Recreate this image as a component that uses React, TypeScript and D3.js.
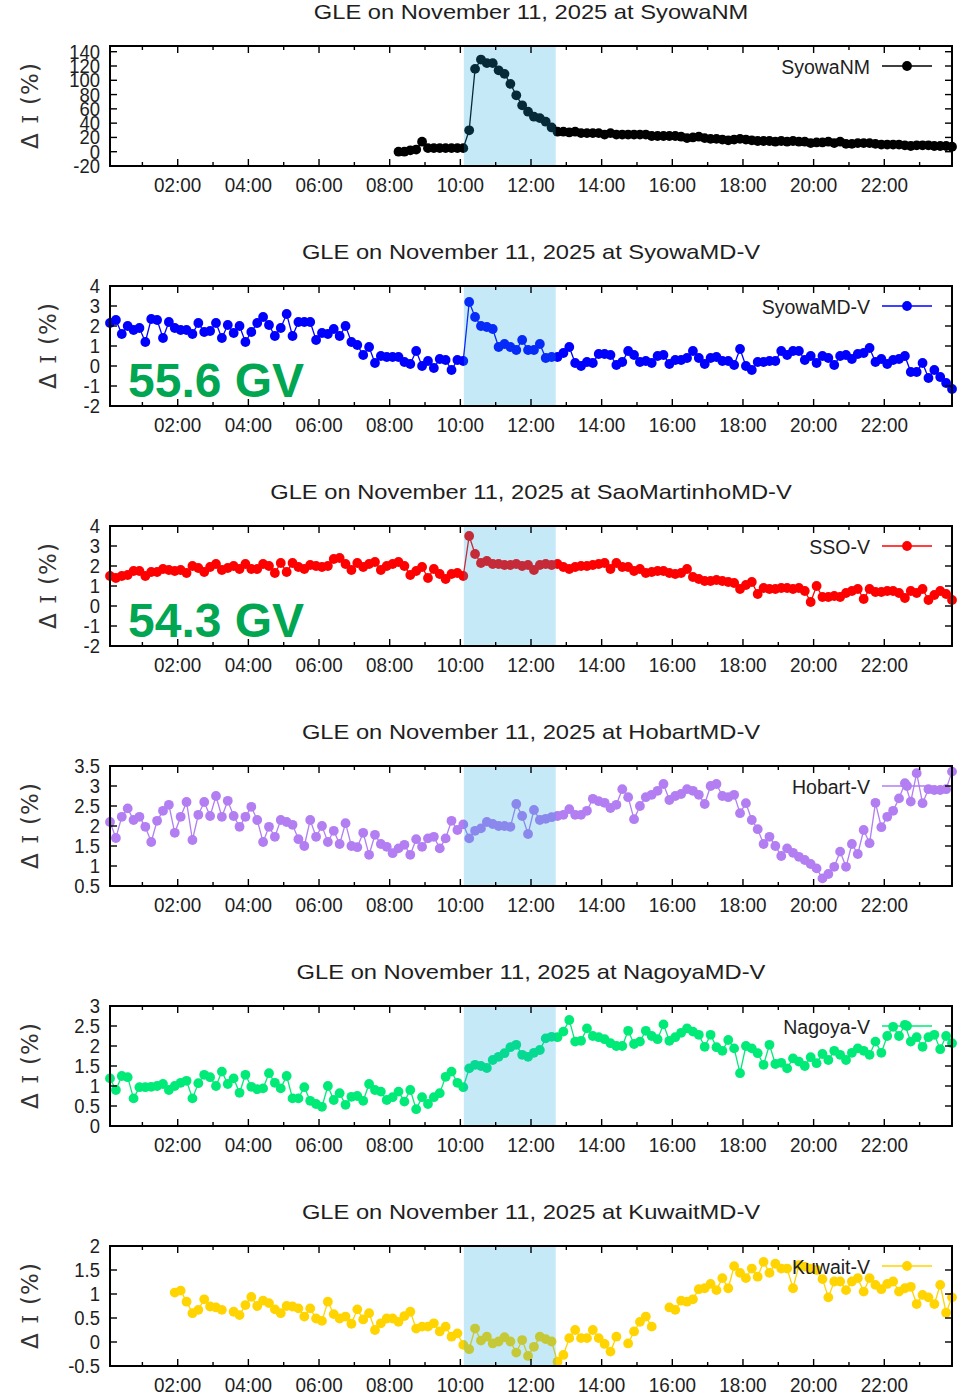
import React from "react";
import * as d3 from "d3";

// ---------- data ----------
const TITLE_PREFIX = "GLE on November 11, 2025 at ";
const stations = ["SyowaNM", "SyowaMD-V", "SaoMartinhoMD-V", "HobartMD-V", "NagoyaMD-V", "KuwaitMD-V"];
const legendLabels = ["SyowaNM", "SyowaMD-V", "SSO-V", "Hobart-V", "Nagoya-V", "Kuwait-V"];
const seriesColors = ["#000000", "#0000ff", "#ff0000", "#b27ef2", "#00ea78", "#ffd400"];
const rigidityLabels = ["", "55.6 GV", "54.3 GV", "", "", ""];
const yDomains: number[][] = [[-20, 148], [-2, 4], [-2, 4], [0.5, 3.5], [0, 3], [-0.5, 2]];
const yTickValues: number[][] = [
  [-20, 0, 20, 40, 60, 80, 100, 120, 140],
  [-2, -1, 0, 1, 2, 3, 4],
  [-2, -1, 0, 1, 2, 3, 4],
  [0.5, 1, 1.5, 2, 2.5, 3, 3.5],
  [0, 0.5, 1, 1.5, 2, 2.5, 3],
  [-0.5, 0, 0.5, 1, 1.5, 2],
];
const xTickLabels = ["02:00", "04:00", "06:00", "08:00", "10:00", "12:00", "14:00", "16:00", "18:00", "20:00", "22:00"];
const xMinorTicks = ["01:00", "03:00", "05:00", "07:00", "09:00", "11:00", "13:00", "15:00", "17:00", "19:00", "21:00", "23:00"];
const xRange = ["00:05", "23:55"];
const shadeRange = ["10:06", "12:42"];
const stepMinutes = 10;
const seriesStart = ["08:15", "00:05", "00:05", "00:05", "00:05", "01:55"];

const syowaNM: (number | null)[] = [
  0, 0, 2, 3, 14, 5, 5, 5, 5, 5, 5, 5,
  30, 116, 129, 124, 124, 114, 109, 95, 79, 65, 56, 49, 47, 42, 34, 28,
  28, 27, 28, 26, 26, 26, 26, 24, 26, 24, 24, 24, 24, 24, 24, 22, 22, 22, 22, 22,
  21, 19, 20, 21, 19, 18, 18, 17, 16, 17, 18, 17, 16, 15, 15, 15, 14, 15, 14, 15,
  14, 14, 12, 13, 13, 14, 12, 14, 11, 11, 12, 12, 12, 11, 10, 10, 10, 10, 9, 8,
  9, 9, 9, 8, 8, 8, 7,
];
const syowaMD: (number | null)[] = [
  2.15, 2.3, 1.6, 2.0, 1.8, 1.9, 1.2, 2.35, 2.3, 1.4, 2.2, 1.9, 1.8, 1.8, 1.6, 2.15, 1.7, 1.75, 2.15, 1.4,
  2.05, 1.65, 2.0, 1.2, 1.7, 2.15, 2.45, 2.05, 1.5, 1.9, 2.6, 1.5, 2.2, 2.2, 2.2, 1.3, 1.65, 1.6, 1.85, 1.5,
  2.0, 1.2, 1.05, 0.55, 0.95, 0.15, 0.5, 0.45, 0.45, 0.45, 0.2, 0.1, 0.75, 0.0, 0.25, -0.1, 0.35, 0.3, -0.2, 0.3,
  0.25, 3.2, 2.45, 2.0, 1.95, 1.85,
  0.95, 1.1, 0.95, 0.8, 1.3, 0.8, 0.8, 1.1, 0.4, 0.45, 0.45, 0.65, 0.95, 0.15, 0.0, 0.2, 0.15, 0.6, 0.6, 0.55,
  0.05, 0.2, 0.75, 0.55, 0.2, 0.25, 0.15, 0.5, 0.55, 0.1, 0.3, 0.3, 0.4, 0.75, 0.4, 0.1, 0.4, 0.45, 0.25, 0.25,
  0.05, 0.85, 0.0, -0.2, 0.2, 0.2, 0.25, 0.25, 0.75, 0.55, 0.75, 0.75, 0.3, 0.5, 0.15, 0.5, 0.4, 0.05, 0.5, 0.55,
  0.35, 0.6, 0.65, 0.9, 0.2, 0.35, 0.1, 0.3, 0.35, 0.5, -0.3, -0.3, 0.15, -0.6, -0.2, -0.55, -0.85, -1.15,
];
const sso: (number | null)[] = [
  1.5, 1.4, 1.5, 1.55, 1.75, 1.75, 1.5, 1.7, 1.7, 1.85, 1.8, 1.75, 1.8, 1.65, 2.0, 1.9, 1.7, 1.95, 2.1, 1.8,
  1.9, 2.0, 1.85, 2.1, 1.85, 1.85, 2.1, 2.0, 1.65, 2.15, 1.7, 2.15, 1.95, 1.85, 2.05, 2.0, 1.95, 2.0, 2.35, 2.4,
  2.1, 1.8, 2.15, 1.95, 2.1, 2.2, 1.8, 2.0, 2.1, 2.2, 2.0, 1.55, 1.75, 1.95, 1.4, 1.85, 1.6, 1.35, 1.6, 1.65,
  1.5,
  3.5, 2.6, 2.15, 2.25, 2.1, 2.1, 2.05, 2.05, 2.1, 2.0, 2.05, 1.8, 2.05, 2.1, 2.05, 2.1, 1.95, 1.85, 1.95, 2.0,
  2.0, 2.05, 2.1, 2.15, 1.85, 2.15, 1.95, 1.95, 1.75, 1.85, 1.65, 1.7, 1.75, 1.75, 1.65, 1.6, 1.65, 1.85, 1.45, 1.35,
  1.25, 1.25, 1.3, 1.25, 1.2, 1.15, 0.85, 1.05, 1.2, 0.6, 0.9, 0.85, 0.85, 0.9, 0.9, 0.85, 0.9, 0.75, 0.2, 1.0,
  0.45, 0.45, 0.5, 0.45, 0.65, 0.75, 0.85, 0.35, 0.85, 0.7, 0.7, 0.75, 0.75, 0.65, 0.4, 0.75, 0.65, 0.85, 0.3, 0.55,
  0.75, 0.6, 0.3,
];
const hobart: (number | null)[] = [
  2.1, 1.7, 2.23, 2.44, 2.15, 2.23, 1.98, 1.6, 2.13, 2.38, 2.53, 1.83, 2.23, 2.6, 1.65, 2.28, 2.6, 2.25, 2.75, 2.23,
  2.63, 2.25, 1.98, 2.23, 2.48, 2.15, 1.6, 1.98, 1.73, 2.15, 2.1, 2.03, 1.67, 1.5, 2.15, 1.73, 2.0, 1.6, 1.88, 1.55,
  2.07, 1.5, 1.47, 1.83, 1.28, 1.78, 1.55, 1.48, 1.32, 1.44, 1.53, 1.28, 1.67, 1.48, 1.69, 1.73, 1.44, 1.69, 2.13, 1.9,
  2.04, 1.69, 1.88, 1.94, 2.1,
  2.05, 2.0, 2.0, 1.98, 2.55, 2.25, 1.8, 2.4, 2.15, 2.18, 2.22, 2.25, 2.28, 2.42, 2.28, 2.28, 2.38, 2.68, 2.62, 2.58,
  2.45, 2.53, 2.92, 2.72, 2.17, 2.5, 2.72, 2.78, 2.88, 3.05, 2.65, 2.75, 2.8, 2.92, 2.88, 2.78, 2.55, 3.0, 3.05, 2.75,
  2.72, 2.78, 2.32, 2.57, 2.15, 1.92, 1.55, 1.73, 1.5, 1.25, 1.44, 1.33, 1.23, 1.15, 1.05, 0.94, 0.69, 0.8, 0.98, 1.36,
  0.98, 1.55, 1.3, 1.9, 1.57, 2.58, 1.97, 2.23, 2.38, 2.69, 3.07, 2.61, 3.32, 2.57, 2.92, 2.9, 2.9, 2.92, 3.36,
];
const nagoya: (number | null)[] = [
  1.19, 0.9, 1.25, 1.22, 0.69, 0.97, 0.97, 0.98, 1.0, 1.05, 0.9, 1.0, 1.08, 1.13, 0.69, 1.07, 1.28, 1.22, 1.0, 1.36,
  1.05, 1.19, 0.83, 1.28, 0.98, 0.92, 0.94, 1.32, 1.08, 0.94, 1.25, 0.69, 0.69, 0.97, 0.63, 0.55, 0.48, 1.0, 0.65, 0.82,
  0.53, 0.73, 0.75, 0.63, 1.05, 0.9, 0.86, 0.65, 0.72, 0.86, 0.61, 0.9, 0.42, 0.72, 0.55, 0.72, 0.82, 1.23, 1.36, 1.08,
  0.97, 1.44, 1.53, 1.5, 1.45,
  1.65, 1.73, 1.82, 1.97, 2.03, 1.78, 1.73, 1.83, 1.9, 2.19, 2.23, 2.22, 2.36, 2.65, 2.11, 2.13, 2.44, 2.25, 2.22, 2.17,
  2.07, 2.0, 2.0, 2.38, 2.05, 2.11, 2.38, 2.25, 2.17, 2.54, 2.13, 2.22, 2.33, 2.44, 2.36, 2.28, 1.98, 2.28, 1.97, 1.88,
  2.15, 1.94, 1.32, 2.0, 1.94, 1.82, 1.53, 2.03, 1.55, 1.58, 1.44, 1.69, 1.61, 1.5, 1.72, 1.57, 1.8, 1.65, 1.88, 1.78,
  1.65, 1.83, 1.94, 1.88, 1.78, 2.11, 1.83, 2.25, 2.48, 2.25, 2.53, 2.11, 2.22, 1.98, 2.22, 2.28, 1.92, 2.25, 2.07,
];
const kuwait: (number | null)[] = [
  1.03, 1.07, 0.84, 0.6, 0.67, 0.89, 0.74, 0.72, 0.67, null,
  0.63, 0.56, 0.77, 0.94, 0.75, 0.86, 0.81, 0.68, 0.6, 0.75, 0.74, 0.7, 0.53, 0.7, 0.49, 0.44, 0.84, 0.58, 0.49, 0.53,
  0.38, 0.68, 0.47, 0.6, 0.25, 0.39, 0.49, 0.49, 0.42, 0.54, 0.63, 0.28, 0.32, 0.32, 0.39, 0.22, 0.32, 0.11, 0.18, -0.06,
  -0.15, 0.28, 0.03, 0.11,
  -0.03, 0.01, 0.1, 0.01, -0.22, 0.04, -0.29, -0.1, 0.11, 0.06, 0.01, -0.41, -0.27, 0.08, 0.25, 0.08, 0.08, 0.25, 0.08, -0.04,
  -0.2, 0.11, null, -0.03, 0.22, 0.42, 0.53, 0.32, null, null,
  0.72, 0.67, 0.86, 0.84, 0.89, 1.1, 1.12, 1.21, 1.08, 1.33, 1.12, 1.58, 1.44, 1.33, 1.53, 1.36, 1.67, 1.44, 1.63, 1.53,
  1.53, 1.12, 1.6, 1.57, 1.53, 1.5, 1.31, 0.93, 1.26, 1.26, 1.08, 1.26, 1.33, 1.05, 1.33, 1.19, 1.1, 1.21, 1.26, 1.05,
  1.12, 1.15, 0.79, 0.98, 0.93, 0.79, 1.19, 0.61, 0.93,
];
const allSeries = [syowaNM, syowaMD, sso, hobart, nagoya, kuwait];

// ---------- layout ----------
const W = 971;
const H = 1395;
const LEFT = 110;
const RIGHT = 952;
const TOP0 = 46;
const PANEL_H = 120;
const PANEL_STEP = 240;
const FONT = "'Liberation Sans', Arial, Helvetica, sans-serif";
const TEXT = "#1e1e1e";
const ylabelX = [30, 48, 48, 30, 30, 30];

const toMin = (s: string) => {
  const [h, m] = s.split(":").map(Number);
  return h * 60 + m;
};

const x = d3.scaleLinear().domain(xRange.map(toMin)).range([LEFT, RIGHT]);

function Panel({ i }: { i: number }) {
  const top = TOP0 + i * PANEL_STEP;
  const bottom = top + PANEL_H;
  const y = d3.scaleLinear().domain(yDomains[i]).range([bottom, top]);
  const t0 = toMin(seriesStart[i]);
  const pts = allSeries[i].map((v, k) => ({ t: t0 + k * stepMinutes, v }));
  const line = d3
    .line<{ t: number; v: number | null }>()
    .defined((d) => d.v !== null)
    .x((d) => x(d.t))
    .y((d) => y(d.v as number));
  const color = seriesColors[i];
  const fmt = (v: number) => String(v);
  const sx0 = x(toMin(shadeRange[0]));
  const sx1 = x(toMin(shadeRange[1]));
  const cx = (LEFT + RIGHT) / 2;

  return (
    <g>
      {/* title */}
      <text
        transform={`translate(${cx},${top - 27}) scale(1.13,1)`}
        textAnchor="middle"
        fontSize={21}
        fontFamily={FONT}
        fill={TEXT}
      >
        {TITLE_PREFIX + stations[i]}
      </text>

      {/* y label */}
      <text
        transform={`translate(${ylabelX[i]},${top + PANEL_H / 2}) rotate(-90)`}
        textAnchor="middle"
        dominantBaseline="central"
        fontSize={23}
        fontFamily="'DejaVu Sans', sans-serif"
        fill="#333"
        textLength={86}
        lengthAdjust="spacing"
      >
        Δ <tspan fontFamily="'DejaVu Serif', serif">I</tspan> (%)
      </text>

      {/* data */}
      <path d={line(pts) || ""} fill="none" stroke={color} strokeWidth={1.3} />
      {pts
        .filter((d) => d.v !== null)
        .map((d, k) => (
          <circle key={k} cx={x(d.t)} cy={y(d.v as number)} r={4.9} fill={color} />
        ))}

      {/* shaded interval overlay */}
      <rect x={sx0} y={top} width={sx1 - sx0} height={PANEL_H} fill="rgb(24,168,224)" fillOpacity={0.25} />

      {/* rigidity annotation */}
      {rigidityLabels[i] && (
        <text x={128} y={top + 111} fontSize={48} fontWeight="bold" fontFamily={FONT} fill="#00a651">
          {rigidityLabels[i]}
        </text>
      )}

      {/* legend */}
      <text x={870} y={top + 28} textAnchor="end" fontSize={19.5} fontFamily={FONT} fill={TEXT}>
        {legendLabels[i]}
      </text>
      <line x1={882} x2={932} y1={top + 20} y2={top + 20} stroke={color} strokeWidth={1.3} />
      <circle cx={907} cy={top + 20} r={4.9} fill={color} />

      {/* ticks */}
      {xTickLabels.map((s) => {
        const xx = x(toMin(s));
        return (
          <g key={s}>
            <line x1={xx} x2={xx} y1={top} y2={top + 7} stroke="#000" strokeWidth={1.4} />
            <line x1={xx} x2={xx} y1={bottom} y2={bottom - 7} stroke="#000" strokeWidth={1.4} />
            <text
              transform={`translate(${xx},${top + 146}) scale(0.9,1)`}
              textAnchor="middle"
              fontSize={21}
              fontFamily={FONT}
              fill={TEXT}
            >
              {s}
            </text>
          </g>
        );
      })}
      {xMinorTicks.map((s) => {
        const xx = x(toMin(s));
        return (
          <g key={s}>
            <line x1={xx} x2={xx} y1={top} y2={top + 4} stroke="#000" strokeWidth={1.4} />
            <line x1={xx} x2={xx} y1={bottom} y2={bottom - 4} stroke="#000" strokeWidth={1.4} />
          </g>
        );
      })}
      {yTickValues[i].map((v) => {
        const yy = y(v);
        return (
          <g key={v}>
            <line x1={LEFT} x2={LEFT + 7} y1={yy} y2={yy} stroke="#000" strokeWidth={1.4} />
            <line x1={RIGHT} x2={RIGHT - 7} y1={yy} y2={yy} stroke="#000" strokeWidth={1.4} />
            <text
              transform={`translate(100,${yy + 7}) scale(0.9,1)`}
              textAnchor="end"
              fontSize={20.5}
              fontFamily={FONT}
              fill={TEXT}
            >
              {fmt(v)}
            </text>
          </g>
        );
      })}

      {/* border */}
      <rect x={LEFT} y={top} width={RIGHT - LEFT} height={PANEL_H} fill="none" stroke="#000" strokeWidth={2} />
    </g>
  );
}

export default function App() {
  return (
    <svg
      width={W}
      height={H}
      viewBox={`0 0 ${W} ${H}`}
      style={{ position: "absolute", left: 0, top: 0, display: "block", background: "#fff" }}
    >
      <rect x={0} y={0} width={W} height={H} fill="#fff" />
      {stations.map((_, i) => (
        <Panel key={i} i={i} />
      ))}
    </svg>
  );
}
